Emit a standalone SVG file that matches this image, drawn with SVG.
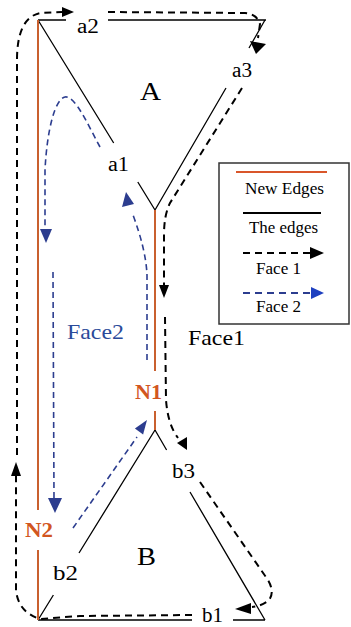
<svg xmlns="http://www.w3.org/2000/svg" width="351" height="627" viewBox="0 0 351 627">
<style>
.edge{stroke:#000;stroke-width:1.3;fill:none}
.new{stroke:#c9602f;stroke-width:2;fill:none}
.f1{stroke:#000;stroke-width:2;stroke-dasharray:7 5;fill:none}
.f2{stroke:#2c3d8f;stroke-width:1.6;stroke-dasharray:6 4;fill:none}
.ah1{fill:#000}
.ah2{fill:#2c3d8f}
.lbl{font-family:"Liberation Serif",serif;fill:#000}
.nl{font-family:"Liberation Serif",serif;font-weight:bold;fill:#d2561f}
</style>
<rect width="351" height="627" fill="#fff"/>
<g id="connectors">
  <path class="edge" d="M38,20 L66,20 M108,20 L266,20 M265,20 L249,48 M226,88 L155,210 M38,20 L113.7,143 M137.8,182 L155,210"/>
  <path class="edge" d="M155,430 L79,553 M53.4,595 L38,620 M155,430 L166.6,450 M190,492 L265,620 M38,620 L192,620 M233,620 L265,620"/>
  <path class="new" d="M38,20 L38,510 M38,550 L38,620 M155,210 L155,371 M155,411 L155,430"/>
  <path class="f1" d="M192,615 L80,616 L40,619 Q18,612 16,590 L16,476"/>
  <polygon class="ah1" points="16,462 11,476 21,476"/>
  <path class="f1" d="M17,455 L17,60 Q17,18 40,13 L62,12"/>
  <polygon class="ah1" points="74,12 62,7 62,17"/>
  <path class="f1" d="M108,12 L245,13 Q257,14 260,24 L258,38"/>
  <polygon class="ah1" points="256,54 250,41 266,44"/>
  <path class="f1" d="M242,88 L170,203 Q164,215 164,235 L164,285"/>
  <polygon class="ah1" points="164,298 159,285 169,285"/>
  <path class="f1" d="M165,317 L166,400 Q168,425 178,438"/>
  <polygon class="ah1" points="177,443 187,437 187,450"/>
  <path class="f1" d="M200,482 L268,580 Q275,592 269,600 Q262,606 252,607"/>
  <polygon class="ah1" points="235,609 251,603 251,614"/>
  <path class="f2" d="M147,360 L147,275 Q146,250 133,215"/>
  <polygon class="ah2" points="126,192 122,207 134,204"/>
  <path class="f2" d="M100,147 C88,125 75,95 65,97 C55,99 47,130 45,170 L45,228"/>
  <polygon class="ah2" points="46,243 40,229 52,229"/>
  <path class="f2" d="M53,272 L54,498"/>
  <polygon class="ah2" points="55,513 48,498 62,498"/>
  <path class="f2" d="M73,528 L137,437"/>
  <polygon class="ah2" points="147,420 143.1,434.4 134.9,428.6"/>
</g>
<g id="node-a2"><text class="lbl" x="77" y="33" font-size="20" textLength="22" lengthAdjust="spacingAndGlyphs">a2</text></g>
<g id="node-a3"><text class="lbl" x="232" y="77" font-size="20" textLength="20" lengthAdjust="spacingAndGlyphs">a3</text></g>
<g id="node-a1"><text class="lbl" x="108" y="171" font-size="20" textLength="21" lengthAdjust="spacingAndGlyphs">a1</text></g>
<g id="node-A"><text class="lbl" x="140" y="100" font-size="25" textLength="21" lengthAdjust="spacingAndGlyphs">A</text></g>
<g id="node-b3"><text class="lbl" x="172" y="478" font-size="20" textLength="23" lengthAdjust="spacingAndGlyphs">b3</text></g>
<g id="node-b2"><text class="lbl" x="53" y="580" font-size="20" textLength="25" lengthAdjust="spacingAndGlyphs">b2</text></g>
<g id="node-b1"><text class="lbl" x="202" y="622" font-size="20" textLength="21" lengthAdjust="spacingAndGlyphs">b1</text></g>
<g id="node-B"><text class="lbl" x="137" y="565" font-size="25" textLength="19" lengthAdjust="spacingAndGlyphs">B</text></g>
<g id="node-N1"><text class="nl" x="135" y="399" font-size="20" textLength="27" lengthAdjust="spacingAndGlyphs">N1</text></g>
<g id="node-N2"><text class="nl" x="25" y="537" font-size="20" textLength="28" lengthAdjust="spacingAndGlyphs">N2</text></g>
<g id="label-face1"><text class="lbl" x="188" y="345" font-size="21" textLength="57" lengthAdjust="spacingAndGlyphs">Face1</text></g>
<g id="label-face2"><text class="lbl" x="67" y="339" font-size="21" textLength="57" lengthAdjust="spacingAndGlyphs" style="fill:#2a4a9a">Face2</text></g>
<g id="legend">
  <rect x="219" y="163" width="130" height="161" fill="#fff" stroke="#333" stroke-width="1.5"/>
  <line x1="236" y1="172" x2="327" y2="172" stroke="#d9562a" stroke-width="2.2"/>
  <text class="lbl" x="245" y="194" font-size="16" textLength="79" lengthAdjust="spacingAndGlyphs">New Edges</text>
  <line x1="243" y1="213" x2="321" y2="213" stroke="#000" stroke-width="2"/>
  <text class="lbl" x="249" y="233" font-size="16" textLength="69" lengthAdjust="spacingAndGlyphs">The edges</text>
  <line x1="243" y1="253" x2="311" y2="253" stroke="#000" stroke-width="2" stroke-dasharray="7 5"/>
  <polygon class="ah1" points="324,253 310,247 310,259"/>
  <text class="lbl" x="256" y="274" font-size="16" textLength="45" lengthAdjust="spacingAndGlyphs">Face 1</text>
  <line x1="243" y1="293" x2="311" y2="293" stroke="#2c3d8f" stroke-width="2" stroke-dasharray="7 5"/>
  <polygon points="324,293 311,287 311,299" fill="#1e40c0"/>
  <text class="lbl" x="256" y="312" font-size="16" textLength="45" lengthAdjust="spacingAndGlyphs">Face 2</text>
</g>
</svg>
